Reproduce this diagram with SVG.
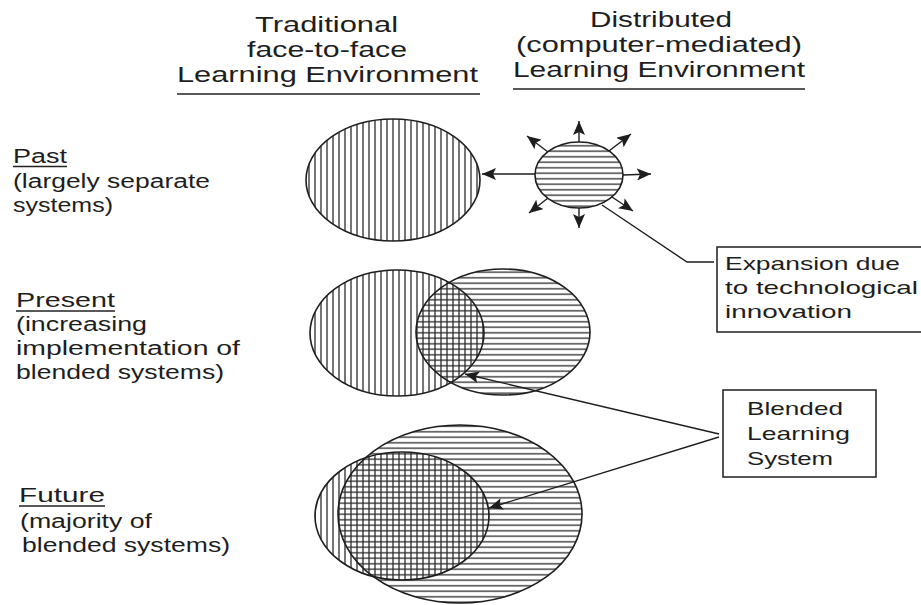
<svg xmlns="http://www.w3.org/2000/svg" width="921" height="605" viewBox="0 0 921 605">
  <style>
    .t { font-family: "Liberation Sans", Arial, sans-serif; fill: #1e1e1e; }
    .hdr { font-size: 22px; }
    .lbl { font-size: 20px; }
    .box-t { font-size: 19px; }
    .ul { stroke: #222; stroke-width: 1.6; fill: none; }
    .outline { fill: none; stroke: #1e1e1e; stroke-width: 1.6; }
    .box { fill: #fff; stroke: #1e1e1e; stroke-width: 1.5; }
    .conn { fill: none; stroke: #1e1e1e; stroke-width: 1.4; }
  </style>
  <defs>
    <pattern id="vhatch" width="6" height="6" patternUnits="userSpaceOnUse">
      <line x1="3" y1="0" x2="3" y2="6" stroke="#2a2a2a" stroke-width="1.3"/>
    </pattern>
    <pattern id="hhatch" width="6" height="5.5" patternUnits="userSpaceOnUse">
      <line x1="0" y1="2.75" x2="6" y2="2.75" stroke="#2a2a2a" stroke-width="1.3"/>
    </pattern>
    <marker id="arrow" markerUnits="userSpaceOnUse" markerWidth="15" markerHeight="12" refX="14" refY="6" orient="auto">
      <path d="M0,0 L14,6 L0,12 L3,6 z" fill="#1e1e1e"/>
    </marker>
  </defs>
  <rect width="921" height="605" fill="#fff"/>

  <g id="header-traditional">
    <text class="t hdr" x="255" y="32" textLength="143" lengthAdjust="spacingAndGlyphs">Traditional</text>
    <text class="t hdr" x="247" y="57" textLength="160" lengthAdjust="spacingAndGlyphs">face-to-face</text>
    <text class="t hdr" x="177" y="82" textLength="301" lengthAdjust="spacingAndGlyphs">Learning Environment</text>
    <line class="ul" x1="177" y1="94" x2="480" y2="94"/>
  </g>
  <g id="header-distributed">
    <text class="t hdr" x="590" y="27" textLength="142" lengthAdjust="spacingAndGlyphs">Distributed</text>
    <text class="t hdr" x="516" y="52" textLength="286" lengthAdjust="spacingAndGlyphs">(computer-mediated)</text>
    <text class="t hdr" x="513" y="77" textLength="292" lengthAdjust="spacingAndGlyphs">Learning Environment</text>
    <line class="ul" x1="513" y1="89" x2="805" y2="89"/>
  </g>

  <g id="label-past">
    <text class="t lbl" x="13" y="163" textLength="54" lengthAdjust="spacingAndGlyphs">Past</text>
    <line class="ul" x1="13" y1="166.5" x2="67" y2="166.5"/>
    <text class="t lbl" x="13" y="188" textLength="197" lengthAdjust="spacingAndGlyphs">(largely separate</text>
    <text class="t lbl" x="13" y="212" textLength="100" lengthAdjust="spacingAndGlyphs">systems)</text>
  </g>
  <g id="label-present">
    <text class="t lbl" x="16" y="307" textLength="99" lengthAdjust="spacingAndGlyphs">Present</text>
    <line class="ul" x1="16" y1="311" x2="115" y2="311"/>
    <text class="t lbl" x="16" y="331" textLength="131" lengthAdjust="spacingAndGlyphs">(increasing</text>
    <text class="t lbl" x="16" y="355" textLength="224" lengthAdjust="spacingAndGlyphs">implementation of</text>
    <text class="t lbl" x="16" y="379" textLength="208" lengthAdjust="spacingAndGlyphs">blended systems)</text>
  </g>
  <g id="label-future">
    <text class="t lbl" x="19" y="502" textLength="86" lengthAdjust="spacingAndGlyphs">Future</text>
    <line class="ul" x1="19" y1="506" x2="105" y2="506"/>
    <text class="t lbl" x="20" y="528" textLength="132" lengthAdjust="spacingAndGlyphs">(majority of</text>
    <text class="t lbl" x="22" y="552" textLength="208" lengthAdjust="spacingAndGlyphs">blended systems)</text>
  </g>

  <g id="past-traditional">
    <ellipse cx="393" cy="180" rx="87" ry="61" fill="url(#vhatch)"/>
    <ellipse class="outline" cx="393" cy="180" rx="87" ry="61"/>
  </g>
  <g id="past-distributed">
    <ellipse cx="579" cy="175" rx="44" ry="33" fill="url(#hhatch)"/>
    <ellipse class="outline" cx="579" cy="175" rx="44" ry="33"/>
  </g>

  <g id="present-traditional">
    <ellipse cx="397" cy="333" rx="87" ry="63" fill="url(#vhatch)"/>
  </g>
  <g id="present-distributed">
    <ellipse cx="503" cy="332" rx="87" ry="63" fill="url(#hhatch)"/>
  </g>
  <g id="present-outlines">
    <ellipse class="outline" cx="397" cy="333" rx="87" ry="63"/>
    <ellipse class="outline" cx="503" cy="332" rx="87" ry="63"/>
  </g>

  <g id="future-distributed">
    <ellipse cx="460" cy="514" rx="122" ry="89" fill="url(#hhatch)"/>
  </g>
  <g id="future-traditional">
    <ellipse cx="402" cy="516" rx="87" ry="64" fill="url(#vhatch)"/>
  </g>
  <g id="future-outlines">
    <ellipse class="outline" cx="460" cy="514" rx="122" ry="89"/>
    <ellipse class="outline" cx="402" cy="516" rx="87" ry="64"/>
  </g>

  <g id="box-expansion">
    <rect class="box" x="717" y="247" width="220" height="85"/>
    <text class="t box-t" x="725" y="270" textLength="175" lengthAdjust="spacingAndGlyphs">Expansion due</text>
    <text class="t box-t" x="725" y="294" textLength="193" lengthAdjust="spacingAndGlyphs">to technological</text>
    <text class="t box-t" x="725" y="318" textLength="127" lengthAdjust="spacingAndGlyphs">innovation</text>
  </g>
  <g id="box-blended">
    <rect class="box" x="723" y="390" width="153" height="87"/>
    <text class="t box-t" x="747" y="415" textLength="96" lengthAdjust="spacingAndGlyphs">Blended</text>
    <text class="t box-t" x="747" y="440" textLength="103" lengthAdjust="spacingAndGlyphs">Learning</text>
    <text class="t box-t" x="747" y="465" textLength="86" lengthAdjust="spacingAndGlyphs">System</text>
  </g>

  <g id="connectors">
    <line class="conn" x1="535" y1="174" x2="482" y2="174" marker-end="url(#arrow)"/>
    <line class="conn" x1="579" y1="142" x2="579" y2="121" marker-end="url(#arrow)"/>
    <line class="conn" x1="609" y1="151" x2="631" y2="134" marker-end="url(#arrow)"/>
    <line class="conn" x1="623" y1="175" x2="651" y2="174" marker-end="url(#arrow)"/>
    <line class="conn" x1="612" y1="197" x2="633" y2="211" marker-end="url(#arrow)"/>
    <line class="conn" x1="579" y1="208" x2="579" y2="228" marker-end="url(#arrow)"/>
    <line class="conn" x1="548" y1="198" x2="529" y2="213" marker-end="url(#arrow)"/>
    <line class="conn" x1="548" y1="152" x2="527" y2="136" marker-end="url(#arrow)"/>
    <polyline class="conn" points="602,205 687,262 714,262"/>
    <line class="conn" x1="719" y1="434" x2="465" y2="374" marker-end="url(#arrow)"/>
    <line class="conn" x1="719" y1="437" x2="489" y2="508" marker-end="url(#arrow)"/>
  </g>
</svg>
